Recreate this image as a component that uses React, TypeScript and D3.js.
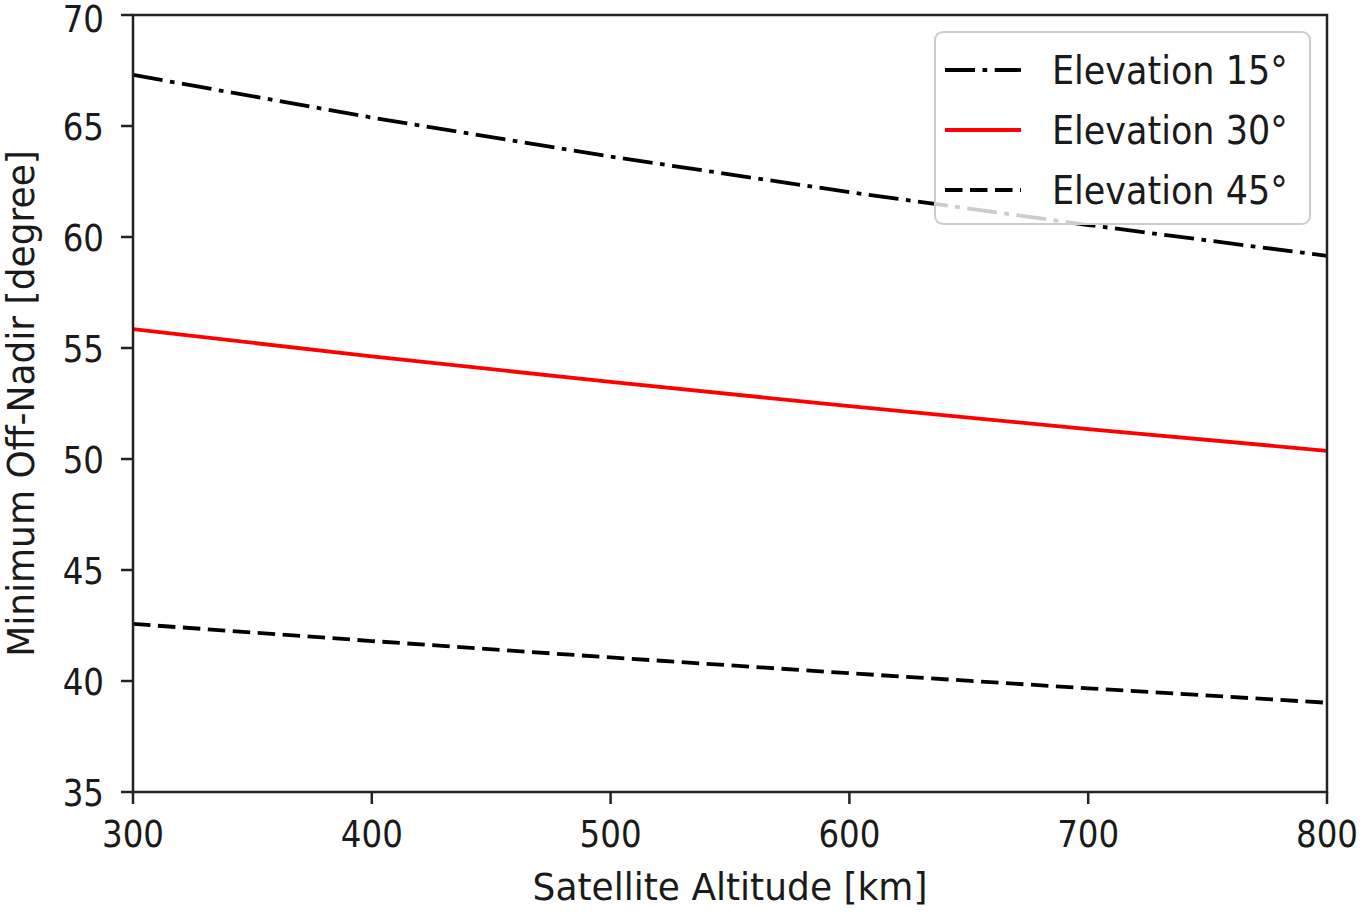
import React from "react";
import * as d3 from "d3";

const altitudes = [300, 400, 500, 600, 700, 800];
const elev15 = [67.3, 65.38, 63.62, 62.02, 60.54, 59.15];
const elev30 = [55.85, 54.62, 53.47, 52.38, 51.35, 50.37];
const elev45 = [42.57, 41.8, 41.06, 40.35, 39.67, 39.02];
const xTicks = [300, 400, 500, 600, 700, 800];
const yTicks = [35, 40, 45, 50, 55, 60, 65, 70];
const seriesNames = ["Elevation 15°", "Elevation 30°", "Elevation 45°"];

const W = 1363;
const H = 917;
const left = 133;
const right = 1327;
const top = 15;
const bottom = 792;
const FONT = "'DejaVu Sans', sans-serif";
const TICK_FS = 32.5;
const TICK_SY = 1.17;
const LAB_FS = 36;
const LAB_SY = 1.04;
const LEG_FS = 35;
const LEG_SY = 1.1;
const TXT = "#1a1a1a";

export default function App() {
  const x = d3.scaleLinear().domain([300, 800]).range([left, right]);
  const y = d3.scaleLinear().domain([35, 70]).range([bottom, top]);
  const line = d3
    .line<[number, number]>()
    .x((d) => x(d[0]))
    .y((d) => y(d[1]));

  const series = [
    { name: seriesNames[0], vals: elev15, color: "#000", dash: "30 7.5 4.7 7.5" },
    { name: seriesNames[1], vals: elev30, color: "#ff0000", dash: "" },
    { name: seriesNames[2], vals: elev45, color: "#000", dash: "17.5 7.5" },
  ];

  const lw = 3.8;

  return (
    <svg
      width={W}
      height={H}
      style={{ position: "absolute", left: 0, top: 0, background: "#fff" }}
      fontFamily={FONT}
    >
      <rect x={0} y={0} width={W} height={H} fill="#fff" />
      <defs>
        <clipPath id="plotclip">
          <rect x={left} y={top} width={right - left} height={bottom - top} />
        </clipPath>
      </defs>
      <g clipPath="url(#plotclip)">
        {series.map((s) => (
          <path
            key={s.name}
            d={line(altitudes.map((a, i) => [a, s.vals[i]] as [number, number])) || ""}
            fill="none"
            stroke={s.color}
            strokeWidth={lw}
            strokeDasharray={s.dash || undefined}
          />
        ))}
      </g>
      {/* spines */}
      <rect
        x={left}
        y={top}
        width={right - left}
        height={bottom - top}
        fill="none"
        stroke="#222"
        strokeWidth={2.5}
      />
      {/* x ticks */}
      {xTicks.map((t) => (
        <g key={"x" + t}>
          <line x1={x(t)} x2={x(t)} y1={bottom} y2={bottom + 12} stroke="#222" strokeWidth={2.5} />
          <text
            transform={`translate(${x(t)},${bottom + 55}) scale(1,${TICK_SY})`}
            textAnchor="middle"
            fontSize={TICK_FS}
            fill={TXT}
          >
            {t}
          </text>
        </g>
      ))}
      {/* y ticks */}
      {yTicks.map((t) => (
        <g key={"y" + t}>
          <line x1={left - 12} x2={left} y1={y(t)} y2={y(t)} stroke="#222" strokeWidth={2.5} />
          <text
            transform={`translate(${left - 29},${Math.max(y(t) + 14, 32)}) scale(1,${TICK_SY})`}
            textAnchor="end"
            fontSize={TICK_FS}
            fill={TXT}
          >
            {t}
          </text>
        </g>
      ))}
      {/* axis labels */}
      <text
        transform={`translate(${(left + right) / 2},${900}) scale(1,${LAB_SY})`}
        textAnchor="middle"
        fontSize={LAB_FS}
        fill={TXT}
      >
        Satellite Altitude [km]
      </text>
      <text
        transform={`translate(${34},${(top + bottom) / 2}) rotate(-90) scale(1,${LAB_SY})`}
        textAnchor="middle"
        fontSize={LAB_FS}
        fill={TXT}
      >
        Minimum Off-Nadir [degree]
      </text>
      {/* legend */}
      <rect
        x={935}
        y={32}
        width={375}
        height={192}
        rx={8}
        ry={8}
        fill="#fff"
        fillOpacity={0.8}
        stroke="#cccccc"
        strokeWidth={2}
      />
      {series.map((s, i) => {
        const cy = 70 + i * 60;
        return (
          <g key={"leg" + i}>
            <line
              x1={945}
              x2={1021}
              y1={cy}
              y2={cy}
              stroke={s.color}
              strokeWidth={lw}
              strokeDasharray={s.dash || undefined}
            />
            <text
              transform={`translate(${1052},${cy + 14}) scale(1,${LEG_SY})`}
              fontSize={LEG_FS}
              fill={TXT}
            >
              {s.name}
            </text>
          </g>
        );
      })}
    </svg>
  );
}
